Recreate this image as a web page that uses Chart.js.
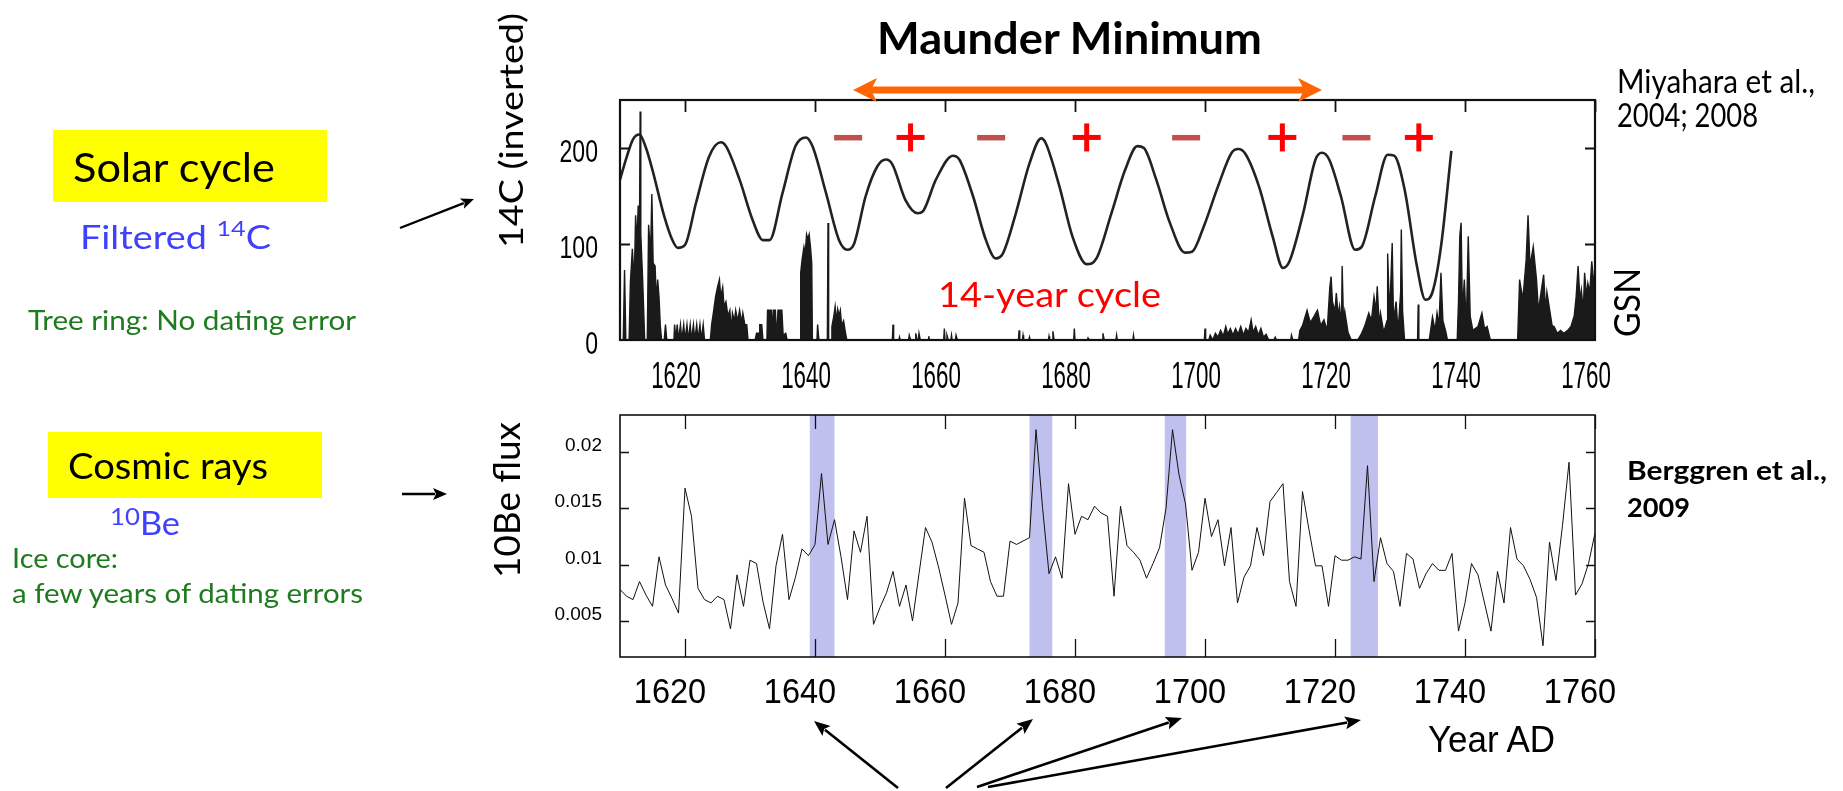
<!DOCTYPE html>
<html>
<head>
<meta charset="utf-8">
<script src="https://cdn.jsdelivr.net/npm/chart.js@4.4.1/dist/chart.umd.min.js"></script>
<style>
  html, body { margin: 0; padding: 0; background: #fff; }
  #page { position: relative; width: 1843px; height: 791px; overflow: hidden; background: #fff; }
  #page canvas { position: absolute; }
  .lbl { position: absolute; width: 0; height: 0; }
  .box { position: absolute; background: #ffff00; }
  #arrows { position: absolute; left: 0; top: 0; }
</style>
</head>
<body>
<div id="page">
  <div class="box" style="left:53px;top:130px;width:274px;height:72px"></div>
  <div class="box" style="left:48px;top:432px;width:274px;height:66px"></div>
  <canvas id="topChart" width="1080" height="305" style="left:540px;top:95px"></canvas>
  <canvas id="bottomChart" width="1080" height="310" style="left:540px;top:405px"></canvas>
  <svg id="arrows" width="1843" height="791"></svg>
</div>
<script>
// ---- data ----
const xTickYears = [1620, 1640, 1660, 1680, 1700, 1720, 1740, 1760];

// filtered 14C (inverted), top panel
const c14Years = [1610, 1611, 1612, 1613, 1614, 1615, 1616.8, 1618, 1618.9, 1620, 1621.7, 1623.7, 1625.5, 1626.3,
  1628.4, 1630.4, 1632, 1633, 1635, 1637, 1638.6, 1639.6, 1641.7, 1643.7, 1645, 1646, 1647.8, 1649.6, 1650.9,
  1651.9, 1653.9, 1655.8, 1656.6, 1658.6, 1661.2, 1662.2, 1664.3, 1666.3, 1667.8, 1668.9, 1670.9, 1673, 1674.8,
  1675.5, 1677.6, 1679.6, 1681.8, 1683.3, 1685.6, 1687.7, 1689.6, 1690.6, 1692.5, 1694.6, 1696.9, 1698, 1699.8,
  1702, 1704.1, 1705.1, 1706.2, 1708.3, 1710.4, 1712, 1713, 1715.1, 1717, 1718, 1719.1, 1720.9, 1723.1, 1724.1,
  1726.2, 1728.1, 1729.1, 1730.7, 1732.6, 1733.9, 1735, 1736.3, 1737.9];
const c14Values = [167, 190, 209, 214, 200, 177, 129, 105, 96, 99, 143, 191, 206, 202,
  167, 125, 104, 104, 153, 202, 211, 202, 153, 104, 94, 100, 150, 181, 188,
  183, 146, 132, 134, 167, 192, 188, 150, 104, 85, 90, 132, 184, 210,
  205, 160, 108, 79, 85, 132, 177, 202, 200, 167, 122, 91, 92, 118,
  160, 195, 199, 194, 160, 108, 75, 82, 132, 188, 195, 188, 150, 94, 97,
  150, 193, 192, 157, 77, 42, 50, 97, 197];

// group sunspot number, top panel
const gsnYears = [1610, 1610.5, 1610.7, 1610.9, 1611.4, 1611.6, 1611.9, 1612.2, 1612.4, 1612.6, 1612.8, 1613, 1613.1,
  1613.2, 1613.5, 1613.8, 1614.2, 1614.4, 1614.7, 1614.9, 1615.1, 1615.4, 1615.6, 1615.8, 1616, 1616.2, 1616.4,
  1616.8, 1617, 1617.2, 1618.3, 1618.4, 1618.6, 1618.8, 1619, 1619.3, 1619.5, 1619.8, 1620, 1620.3, 1620.5,
  1620.8, 1621, 1621.3, 1621.5, 1621.8, 1622, 1622.3, 1622.5, 1622.8, 1623, 1623.9, 1624.1, 1624.4, 1624.7,
  1625, 1625.3, 1625.5, 1625.8, 1626, 1626.3, 1626.6, 1626.9, 1627.1, 1627.3, 1627.6, 1627.8, 1628.1, 1628.4,
  1628.7, 1628.9, 1629.2, 1629.5, 1629.7, 1630.8, 1631, 1631.4, 1631.5, 1631.8, 1632, 1632.6, 1632.7, 1633.3,
  1633.4, 1633.6, 1633.9, 1634.1, 1634.3, 1634.9, 1635.1, 1635.5, 1635.7, 1637.7, 1637.8, 1638, 1638.3, 1638.5,
  1638.7, 1638.9, 1639.1, 1639.3, 1639.5, 1639.6, 1640.3, 1640.4, 1640.6, 1641.9, 1642, 1642.1, 1642.5, 1642.6,
  1642.9, 1643.1, 1643.3, 1643.5, 1643.7, 1643.9, 1644.1, 1644.4, 1644.7, 1644.9, 1651.9, 1652, 1652.1, 1652.9,
  1653, 1653.1, 1654.4, 1654.5, 1654.7, 1655.4, 1655.5, 1655.7, 1655.9, 1656, 1656.2, 1657.4, 1657.5, 1657.6,
  1659.8, 1659.9, 1660, 1660.2, 1660.3, 1660.5, 1660.9, 1661, 1661.1, 1661.6, 1661.7, 1661.9, 1671.3, 1671.4,
  1671.5, 1671.9, 1672, 1672.1, 1672.9, 1673, 1673.1, 1675.9, 1676, 1676.1, 1676.5, 1676.6, 1676.8, 1679.8,
  1679.9, 1680, 1681.9, 1682, 1682.1, 1684.2, 1684.3, 1684.5, 1686.3, 1686.4, 1686.5, 1688.9, 1689, 1689.1,
  1699.9, 1700, 1700.1, 1700.6, 1700.8, 1701.2, 1701.6, 1702, 1702.4, 1702.8, 1703.2, 1703.5, 1703.9, 1704.3,
  1704.7, 1705.1, 1705.5, 1705.9, 1706.3, 1706.7, 1707.1, 1707.4, 1707.8, 1708.2, 1708.6, 1709, 1709.4, 1709.8,
  1710.6, 1710.8, 1711, 1713.2, 1713.3, 1713.5, 1714.4, 1714.6, 1715, 1715.7, 1716.2, 1716.8, 1717.3, 1717.8,
  1718.3, 1718.8, 1719.2, 1719.4, 1719.6, 1720, 1720.2, 1720.5, 1720.7, 1721, 1721.1, 1721.3, 1721.5, 1722,
  1722.5, 1723.5, 1724.1, 1724.6, 1725.2, 1725.6, 1726, 1726.3, 1726.5, 1726.8, 1727, 1727.5, 1728, 1728.1,
  1728.4, 1728.8, 1729, 1729.4, 1729.7, 1730.1, 1730.2, 1730.4, 1730.7, 1732.7, 1732.8, 1732.9, 1734.5, 1735,
  1735.4, 1735.7, 1736, 1736.3, 1736.6, 1737, 1737.3, 1738.8, 1739, 1739.2, 1739.4, 1739.6, 1739.9, 1740.2,
  1740.5, 1740.8, 1741.2, 1742, 1742.6, 1743, 1743.4, 1743.9, 1748.1, 1748.4, 1748.9, 1749.4, 1749.7, 1750,
  1750.5, 1751, 1751.3, 1751.6, 1752.1, 1752.4, 1752.6, 1753.1, 1753.4, 1753.7, 1754.2, 1754.7, 1755.2, 1755.8,
  1756.3, 1756.8, 1757.1, 1757.4, 1757.7, 1757.9, 1758.2, 1758.4, 1758.7, 1758.9, 1759.2, 1759.5, 1759.8, 1760];
const gsnValues = [0, 0, 73, 0, 0, 60, 95, 60, 130, 100, 140, 120, 238,
  110, 60, 0, 0, 120, 90, 152, 80, 77, 40, 63, 45, 15, 0,
  0, 16, 0, 0, 16, 0, 16, 0, 16, 0, 16, 0, 16, 0,
  16, 0, 16, 0, 16, 0, 16, 0, 16, 0, 0, 16, 30, 45,
  55, 63, 45, 55, 35, 40, 25, 31, 10, 28, 20, 31, 20, 31,
  18, 28, 16, 16, 0, 0, 7, 7, 16, 16, 0, 0, 31, 31,
  7, 31, 31, 0, 31, 31, 5, 7, 0, 0, 70, 83, 97, 90,
  110, 105, 110, 97, 80, 0, 0, 16, 0, 0, 122, 0, 0, 14,
  25, 35, 20, 32, 25, 31, 15, 20, 7, 0, 0, 16, 0, 0,
  3, 0, 0, 5, 0, 0, 7, 0, 0, 7, 0, 0, 4, 0,
  0, 12, 0, 0, 5, 0, 0, 5, 0, 0, 5, 0, 0, 10,
  0, 0, 5, 0, 0, 3, 0, 0, 4, 0, 0, 9, 0, 0,
  12, 0, 0, 2, 0, 0, 7, 0, 0, 5, 0, 0, 5, 0,
  0, 12, 0, 0, 5, 0, 7, 3, 10, 4, 14, 6, 12, 5,
  12, 6, 14, 5, 12, 8, 21, 8, 14, 5, 12, 3, 6, 0,
  0, 3, 0, 0, 5, 0, 0, 10, 15, 31, 18, 25, 31, 15,
  21, 10, 55, 66, 40, 30, 49, 25, 35, 15, 77, 20, 30, 8,
  0, 0, 7, 15, 28, 20, 45, 30, 56, 15, 28, 8, 20, 90,
  25, 101, 20, 40, 8, 50, 115, 30, 0, 0, 37, 0, 0, 24,
  10, 28, 15, 70, 20, 10, 0, 0, 40, 108, 122, 30, 63, 14,
  108, 25, 10, 14, 28, 12, 14, 0, 0, 63, 42, 83, 130, 77,
  97, 63, 30, 45, 68, 30, 50, 28, 15, 14, 7, 10, 7, 10,
  14, 25, 45, 77, 40, 52, 30, 70, 45, 59, 50, 82, 60, 70];

// 10Be flux, bottom panel (annual)
const beYears = [1610, 1611, 1612, 1613, 1614, 1615, 1616, 1617, 1618, 1619, 1620, 1621, 1622, 1623, 1624, 1625,
  1626, 1627, 1628, 1629, 1630, 1631, 1632, 1633, 1634, 1635, 1636, 1637, 1638, 1639, 1640, 1641, 1642, 1643,
  1644, 1645, 1646, 1647, 1648, 1649, 1650, 1651, 1652, 1653, 1654, 1655, 1656, 1657, 1658, 1659, 1660, 1661,
  1662, 1663, 1664, 1665, 1666, 1667, 1668, 1669, 1670, 1671, 1672, 1673, 1674, 1675, 1676, 1677, 1678, 1679,
  1680, 1681, 1682, 1683, 1684, 1685, 1686, 1687, 1688, 1689, 1690, 1691, 1692, 1693, 1694, 1695, 1696, 1697,
  1698, 1699, 1700, 1701, 1702, 1703, 1704, 1705, 1706, 1707, 1708, 1709, 1710, 1711, 1712, 1713, 1714, 1715,
  1716, 1717, 1718, 1719, 1720, 1721, 1722, 1723, 1724, 1725, 1726, 1727, 1728, 1729, 1730, 1731, 1732, 1733,
  1734, 1735, 1736, 1737, 1738, 1739, 1740, 1741, 1742, 1743, 1744, 1745, 1746, 1747, 1748, 1749, 1750, 1751,
  1752, 1753, 1754, 1755, 1756, 1757, 1758, 1759, 1760];
const beValues = [0.0078, 0.0072, 0.0069, 0.0085, 0.0073, 0.0063, 0.0107, 0.0082, 0.0070, 0.0057,
  0.0168, 0.0143, 0.0079, 0.0069, 0.0066, 0.0072, 0.0069, 0.0043, 0.0091, 0.0063,
  0.0104, 0.0101, 0.0067, 0.0043, 0.0099, 0.0127, 0.0069, 0.0089, 0.0114, 0.0108,
  0.0118, 0.0181, 0.0118, 0.0140, 0.0107, 0.0069, 0.0130, 0.0111, 0.0143, 0.0047,
  0.0062, 0.0075, 0.0094, 0.0063, 0.0082, 0.0050, 0.0092, 0.0133, 0.0120, 0.0098,
  0.0073, 0.0047, 0.0066, 0.0159, 0.0117, 0.0114, 0.0111, 0.0085, 0.0072, 0.0072,
  0.0121, 0.0118, 0.0121, 0.0124, 0.0220, 0.0151, 0.0092, 0.0107, 0.0088, 0.0172,
  0.0127, 0.0143, 0.0140, 0.0152, 0.0146, 0.0143, 0.0072, 0.0152, 0.0117, 0.0111,
  0.0104, 0.0088, 0.0101, 0.0115, 0.0150, 0.0220, 0.0180, 0.0154, 0.0095, 0.0111,
  0.0159, 0.0125, 0.0140, 0.0099, 0.0133, 0.0066, 0.0089, 0.0099, 0.0133, 0.0108,
  0.0156, 0.0164, 0.0172, 0.0085, 0.0063, 0.0165, 0.0131, 0.0099, 0.0099, 0.0063,
  0.0108, 0.0104, 0.0104, 0.0107, 0.0105, 0.0188, 0.0085, 0.0124, 0.0101, 0.0094,
  0.0063, 0.0110, 0.0105, 0.0079, 0.0092, 0.0101, 0.0095, 0.0095, 0.0110, 0.0041,
  0.0066, 0.0101, 0.0091, 0.0066, 0.0041, 0.0094, 0.0066, 0.0133, 0.0105, 0.0099,
  0.0087, 0.0071, 0.0028, 0.0120, 0.0086, 0.0135, 0.0191, 0.0073, 0.0083, 0.0101,
  0.0128];

// tick values
const topYTicks = [0, 100, 200];
const topYTickMarks = [100, 200];
const bottomYTicks = [0.005, 0.01, 0.015, 0.02];

// highlighted 10Be peaks
const bandStarts = [1639.2, 1673.0, 1693.8, 1722.4];
const bandEnds = [1643.0, 1676.5, 1697.1, 1726.6];

// polarity signs above the 14C curve
const signYears = [1645.1, 1654.7, 1667.1, 1681.8, 1697.1, 1711.9, 1723.3, 1732.9];
const signKinds = ['-', '+', '-', '+', '-', '+', '-', '+'];
const signLevel = 211;

// ---- axes / frame drawn on top of the library scales ----
function framePlugin(cfg) {
  return {
    id: 'frame',
    beforeDatasetsDraw(chart) {
      if (!cfg.bandStarts) return;
      const { ctx, chartArea: a, scales: { x } } = chart;
      ctx.save();
      ctx.fillStyle = '#bfc0ee';
      cfg.bandStarts.forEach((s, i) => {
        const x0 = x.getPixelForValue(s);
        const x1 = x.getPixelForValue(cfg.bandEnds[i]);
        ctx.fillRect(x0, a.top, x1 - x0, a.bottom - a.top);
      });
      ctx.restore();
    },
    afterDraw(chart) {
      const { ctx, chartArea: a, scales: { x, y } } = chart;
      ctx.save();
      ctx.strokeStyle = '#111';
      ctx.lineWidth = cfg.boxWidth;
      ctx.strokeRect(a.left, a.top, a.right - a.left, a.bottom - a.top);

      ctx.lineWidth = cfg.tickWidth;
      ctx.beginPath();
      xTickYears.forEach(v => {
        const px = Math.round(x.getPixelForValue(v)) + 0.5;
        if (cfg.xTickTop) { ctx.moveTo(px, a.top); ctx.lineTo(px, a.top + cfg.xTickTop); }
        if (cfg.xTickBottom) { ctx.moveTo(px, a.bottom); ctx.lineTo(px, a.bottom - cfg.xTickBottom); }
      });
      cfg.yTickMarks.forEach(v => {
        const py = Math.round(y.getPixelForValue(v)) + 0.5;
        ctx.moveTo(a.left, py); ctx.lineTo(a.left + cfg.yTickLen, py);
        ctx.moveTo(a.right, py); ctx.lineTo(a.right - cfg.yTickLen, py);
      });
      ctx.stroke();

      // tick labels, squeezed sideways like the condensed face of the original
      ctx.fillStyle = '#000';
      ctx.textBaseline = 'alphabetic';
      ctx.font = cfg.xFont;
      ctx.textAlign = 'center';
      xTickYears.forEach(v => {
        ctx.save();
        ctx.translate(x.getPixelForValue(v) + cfg.xLabelShift, a.bottom + cfg.xLabelBase);
        ctx.scale(cfg.xSquash, 1);
        ctx.fillText(String(v), 0, 0);
        ctx.restore();
      });
      ctx.font = cfg.yFont;
      ctx.textAlign = 'right';
      cfg.yLabels.forEach(v => {
        ctx.save();
        ctx.translate(a.left - cfg.yLabelGap, y.getPixelForValue(v) + cfg.yLabelBase);
        ctx.scale(cfg.ySquash, 1);
        ctx.fillText(String(v), 0, 0);
        ctx.restore();
      });
      ctx.restore();
    }
  };
}

const signPlugin = {
  id: 'signs',
  afterDatasetsDraw(chart) {
    const { ctx, scales: { x, y } } = chart;
    const py = y.getPixelForValue(signLevel);
    ctx.save();
    signYears.forEach((yr, i) => {
      const px = x.getPixelForValue(yr);
      if (signKinds[i] === '+') {
        ctx.fillStyle = '#ff0000';
        ctx.fillRect(px - 14, py - 2.5, 28, 5);
        ctx.fillRect(px - 2.5, py - 14, 5, 28);
      } else {
        ctx.fillStyle = '#c0504d';
        ctx.fillRect(px - 14, py - 2.5, 28, 5.5);
      }
    });
    ctx.restore();
  }
};

const toPoints = (xs, ys) => xs.map((v, i) => ({ x: v, y: ys[i] }));

new Chart(document.getElementById('topChart'), {
  type: 'line',
  data: {
    datasets: [
      {
        label: 'GSN',
        data: toPoints(gsnYears, gsnValues),
        borderColor: '#1a1a1a',
        backgroundColor: '#1a1a1a',
        borderWidth: 1.4,
        fill: 'origin',
        pointRadius: 0,
        tension: 0,
      },
      {
        label: '14C (inverted)',
        data: toPoints(c14Years, c14Values),
        borderColor: '#222',
        borderWidth: 2.6,
        fill: false,
        pointRadius: 0,
        cubicInterpolationMode: 'monotone',
      },
    ],
  },
  options: {
    responsive: false,
    animation: false,
    layout: { padding: { left: 80, top: 5, right: 25, bottom: 60 } },
    scales: {
      x: { type: 'linear', min: 1610, max: 1760, display: false },
      y: { type: 'linear', min: 0, max: 250, display: false },
    },
    plugins: { legend: { display: false }, tooltip: { enabled: false } },
  },
  plugins: [
    framePlugin({
      boxWidth: 2.2, tickWidth: 1.8, xTickTop: 12, xTickBottom: 0,
      yTickMarks: topYTickMarks, yTickLen: 10,
      xFont: '36px "Liberation Sans", Arial, sans-serif', xSquash: 0.62, xLabelShift: -9, xLabelBase: 48,
      yFont: '32px "Liberation Sans", Arial, sans-serif', ySquash: 0.72, yLabels: topYTicks, yLabelGap: 22, yLabelBase: 14,
    }),
    signPlugin,
  ],
});

new Chart(document.getElementById('bottomChart'), {
  type: 'line',
  data: {
    datasets: [
      {
        label: '10Be flux',
        data: toPoints(beYears, beValues),
        borderColor: '#111',
        borderWidth: 1,
        fill: false,
        pointRadius: 0,
        tension: 0,
      },
    ],
  },
  options: {
    responsive: false,
    animation: false,
    layout: { padding: { left: 80, top: 10, right: 25, bottom: 58 } },
    scales: {
      x: { type: 'linear', min: 1610, max: 1760, display: false },
      y: { type: 'linear', min: 0.0018, max: 0.0233, display: false },
    },
    plugins: { legend: { display: false }, tooltip: { enabled: false } },
  },
  plugins: [
    framePlugin({
      boxWidth: 1.6, tickWidth: 1.3, xTickTop: 14, xTickBottom: 18,
      yTickMarks: bottomYTicks, yTickLen: 9,
      xFont: '35px "Liberation Sans", Arial, sans-serif', xSquash: 0.93, xLabelShift: -15, xLabelBase: 46,
      yFont: '19px "Liberation Sans", Arial, sans-serif', ySquash: 1, yLabels: bottomYTicks, yLabelGap: 18, yLabelBase: -1,
      bandStarts: bandStarts, bandEnds: bandEnds,
    }),
  ],
});

// ---- annotation text, placed by baseline and fitted to the original width ----
const page = document.getElementById('page');
function addText(html, o) {
  const wrap = document.createElement('div');
  wrap.className = 'lbl';
  wrap.style.left = o.x + 'px';
  wrap.style.top = o.y + 'px';
  const inner = document.createElement('div');
  inner.style.cssText = 'position:absolute;left:0;top:0;white-space:nowrap;line-height:1;transform-origin:0 0;' +
    'font-family:' + (o.font || 'Lato, sans-serif') + ';font-size:' + o.size + 'px;font-weight:' + (o.weight || 400) +
    ';color:' + (o.color || '#000');
  inner.innerHTML = html + '<span style="display:inline-block;width:0;height:0"></span>';
  wrap.appendChild(inner);
  page.appendChild(wrap);
  const mark = inner.lastChild.getBoundingClientRect();
  const box = inner.getBoundingClientRect();
  inner.style.top = -(mark.bottom - box.top) + 'px';
  if (o.width) inner.style.transform = 'scaleX(' + (o.width / box.width) + ')';
  if (o.rotate) { wrap.style.transformOrigin = '0 0'; wrap.style.transform = 'rotate(-90deg)'; }
}

const blue = '#3f3fff';
const green = '#1e7b1e';
addText('Solar cycle', { x: 73, y: 182, size: 41, width: 202 });
addText('Filtered <span style="font-size:22px;vertical-align:13px">14</span>C', { x: 80, y: 249, size: 33, width: 191, color: blue });
addText('Tree ring: No dating error', { x: 28, y: 330, size: 26, width: 328, color: green });
addText('Cosmic rays', { x: 68, y: 479, size: 37, width: 200 });
addText('<span style="font-size:24px;vertical-align:10px">10</span>Be', { x: 110, y: 535, size: 32, width: 70, color: blue });
addText('Ice core:', { x: 12, y: 568, size: 26, width: 106, color: green });
addText('a few years of dating errors', { x: 12, y: 603, size: 26, width: 351, color: green });
addText('Maunder Minimum', { x: 877, y: 54, size: 44, weight: 700, width: 385 });
addText('Miyahara et al.,', { x: 1617, y: 93, size: 32, width: 198 });
addText('2004; 2008', { x: 1617, y: 127, size: 32, width: 141 });
addText('Berggren et al.,', { x: 1627, y: 480, size: 26, weight: 700, width: 200 });
addText('2009', { x: 1627, y: 517, size: 26, weight: 700, width: 63 });
addText('14-year cycle', { x: 938, y: 307, size: 35, width: 223, color: '#ff0000' });
addText('GSN', { x: 1640, y: 337, size: 37, width: 69, rotate: true });
addText('14C (inverted)', { x: 523, y: 248, size: 33, width: 235, rotate: true });
addText('10Be flux', { x: 520, y: 578, size: 37, width: 156, rotate: true });
addText('Year AD', { x: 1428, y: 752, size: 37, width: 127, font: '"Liberation Sans", Arial, sans-serif' });

// ---- arrows ----
const svg = document.getElementById('arrows');
const NS = 'http://www.w3.org/2000/svg';
function el(tag, attrs) {
  const e = document.createElementNS(NS, tag);
  for (const k in attrs) e.setAttribute(k, attrs[k]);
  svg.appendChild(e);
  return e;
}
function arrow(x1, y1, x2, y2, width, headLen, headHalf, color) {
  const dx = x2 - x1, dy = y2 - y1, len = Math.hypot(dx, dy);
  const ux = dx / len, uy = dy / len;
  const bx = x2 - ux * headLen, by = y2 - uy * headLen;
  el('line', { x1, y1, x2: bx + ux * 2, y2: by + uy * 2, stroke: color, 'stroke-width': width });
  el('polygon', {
    points: `${x2},${y2} ${bx - uy * headHalf},${by + ux * headHalf} ${bx + ux * 3},${by + uy * 3} ${bx + uy * headHalf},${by - ux * headHalf}`,
    fill: color,
  });
}
arrow(400, 228, 474, 199, 2.4, 13, 5.5, '#000');
arrow(402, 494, 447, 494, 2.4, 14, 6, '#000');
arrow(898, 788, 814, 721, 2.6, 16, 6.5, '#000');
arrow(946, 788, 1033, 719, 2.6, 16, 6.5, '#000');
arrow(977, 787, 1182, 718, 2.6, 16, 6.5, '#000');
arrow(988, 787, 1361, 720, 2.6, 16, 6.5, '#000');
// Maunder Minimum span
el('line', { x1: 866, y1: 90, x2: 1309, y2: 90, stroke: '#ff6600', 'stroke-width': 7 });
el('polygon', { points: '853,90 877,78 871,90 877,102', fill: '#ff6600' });
el('polygon', { points: '1322,90 1298,78 1304,90 1298,102', fill: '#ff6600' });
</script>
</body>
</html>
